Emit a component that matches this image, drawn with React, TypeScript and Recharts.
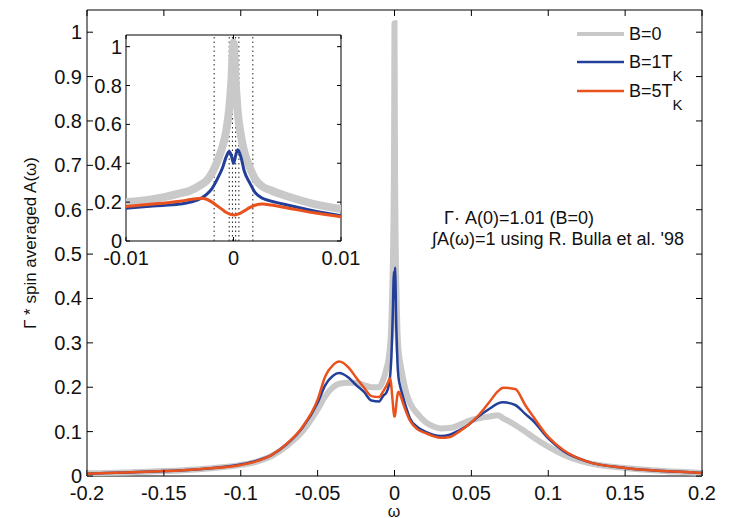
import React from 'react'
import { LineChart, Line, XAxis, YAxis, ReferenceArea, ReferenceLine } from 'recharts'

// omega grid (dense near 0 so the Kondo peak is resolved)
const omega = [
  -0.2, -0.175, -0.15, -0.125, -0.1, -0.09, -0.08, -0.07, -0.06, -0.05, -0.045, -0.04, -0.036,
  -0.03, -0.025, -0.02, -0.015, -0.01, -0.0075, -0.005, -0.004, -0.003, -0.0025, -0.002, -0.0015,
  -0.001, -0.0007, -0.0004, -0.0002, 0, 0.0002, 0.0004, 0.0007, 0.001, 0.0015, 0.002, 0.0027,
  0.0035, 0.005, 0.0075, 0.01, 0.015, 0.02, 0.025, 0.03, 0.036, 0.042, 0.048, 0.055, 0.062, 0.067,
  0.0707, 0.0785, 0.085, 0.09, 0.1, 0.11, 0.125, 0.15, 0.175, 0.2,
]
const specB0 = [
  0.006, 0.008, 0.011, 0.016, 0.025, 0.032, 0.045, 0.068, 0.1, 0.15, 0.18, 0.2, 0.208,
  0.21, 0.21, 0.205, 0.2, 0.2, 0.215, 0.245, 0.26, 0.29, 0.31, 0.35, 0.41,
  0.49, 0.56, 0.68, 0.82, 1.02, 0.82, 0.66, 0.54, 0.46, 0.38, 0.32, 0.28,
  0.26, 0.23, 0.19, 0.165, 0.14, 0.122, 0.112, 0.107, 0.108, 0.115, 0.124, 0.13, 0.134, 0.137,
  0.13, 0.115, 0.1, 0.088, 0.066, 0.048, 0.03, 0.018, 0.011, 0.007,
]
const specB1 = [
  0.005, 0.008, 0.011, 0.016, 0.026, 0.034, 0.047, 0.072, 0.108, 0.165, 0.205, 0.226, 0.232,
  0.222, 0.205, 0.19, 0.17, 0.168, 0.18, 0.19, 0.2, 0.22, 0.24, 0.27, 0.32,
  0.38, 0.43, 0.46, 0.44, 0.4, 0.44, 0.47, 0.43, 0.36, 0.3, 0.25, 0.22,
  0.205, 0.185, 0.155, 0.13, 0.11, 0.1, 0.093, 0.09, 0.093, 0.103, 0.115, 0.135, 0.152, 0.163,
  0.166, 0.16, 0.14, 0.125, 0.085, 0.056, 0.033, 0.018, 0.011, 0.007,
]
const specB5 = [
  0.005, 0.008, 0.011, 0.016, 0.025, 0.033, 0.047, 0.073, 0.11, 0.172, 0.225, 0.25, 0.258,
  0.245, 0.222, 0.2, 0.18, 0.178, 0.19, 0.205, 0.213, 0.22, 0.215, 0.2, 0.18,
  0.16, 0.148, 0.14, 0.136, 0.134, 0.135, 0.138, 0.145, 0.155, 0.172, 0.184, 0.19,
  0.185, 0.17, 0.145, 0.125, 0.105, 0.097, 0.09, 0.086, 0.088, 0.1, 0.115, 0.138, 0.168, 0.19,
  0.199, 0.196, 0.16, 0.135, 0.088, 0.058, 0.033, 0.018, 0.011, 0.007,
]

const xTicks = [-0.2, -0.15, -0.1, -0.05, 0, 0.05, 0.1, 0.15, 0.2]
const yTicks = [0, 0.1, 0.2, 0.3, 0.4, 0.5, 0.6, 0.7, 0.8, 0.9, 1]
const insetXTicks = [-0.01, 0, 0.01]
const insetYTicks = [0, 0.2, 0.4, 0.6, 0.8, 1]
const insetMarks = [-0.0018, -0.0004, -0.0001, 0.0002, 0.0005, 0.0018]

const legendItems = [
  { label: 'B=0', sub: '', color: '#c9c9c9', width: 4 },
  { label: 'B=1T', sub: 'K', color: '#233f9a', width: 2.5 },
  { label: 'B=5T', sub: 'K', color: '#e9521d', width: 2.5 },
]

const data = omega.map((w, i) => ({ w, b0: specB0[i], b1: specB1[i], b5: specB5[i] }))
const insetData = data.filter((d) => Math.abs(d.w) <= 0.01 + 1e-9)

const FONT = '"Liberation Sans", Arial, sans-serif'
const MAIN = { left: 87, right: 702, top: 10, bottom: 476 }
const INSET = { left: 126, right: 341, top: 35, bottom: 241 }

const fmt = (v: number) => String(Math.round(v * 1000) / 1000)

function MainXTick({ x, payload }: any) {
  return (
    <g>
      <line x1={x} x2={x} y1={MAIN.bottom} y2={MAIN.bottom - 6} stroke="#000" />
      <line x1={x} x2={x} y1={MAIN.top} y2={MAIN.top + 6} stroke="#000" />
      <text x={x} y={MAIN.bottom + 24} textAnchor="middle" fontSize={20} fill="#111" fontFamily={FONT}>
        {fmt(payload.value)}
      </text>
    </g>
  )
}

function MainYTick({ y, payload }: any) {
  return (
    <g>
      <line x1={MAIN.left} x2={MAIN.left + 6} y1={y} y2={y} stroke="#000" />
      <line x1={MAIN.right} x2={MAIN.right - 6} y1={y} y2={y} stroke="#000" />
      <text x={MAIN.left - 5} y={y} dy="0.35em" textAnchor="end" fontSize={20} fill="#111" fontFamily={FONT}>
        {fmt(payload.value)}
      </text>
    </g>
  )
}

function InsetXTick({ x, payload }: any) {
  return (
    <g>
      <line x1={x} x2={x} y1={INSET.bottom} y2={INSET.bottom - 4} stroke="#000" />
      <line x1={x} x2={x} y1={INSET.top} y2={INSET.top + 4} stroke="#000" />
      <text x={x} y={INSET.bottom + 24} textAnchor="middle" fontSize={20} fill="#111" fontFamily={FONT}>
        {fmt(payload.value)}
      </text>
    </g>
  )
}

function InsetYTick({ y, payload }: any) {
  return (
    <g>
      <line x1={INSET.left} x2={INSET.left + 4} y1={y} y2={y} stroke="#000" />
      <line x1={INSET.right} x2={INSET.right - 4} y1={y} y2={y} stroke="#000" />
      <text x={INSET.left - 4} y={y} dy="0.35em" textAnchor="end" fontSize={20} fill="#111" fontFamily={FONT}>
        {fmt(payload.value)}
      </text>
    </g>
  )
}

export default function App() {
  return (
    <div style={{ position: 'absolute', left: 0, top: 0, width: 731, height: 518, background: '#fff', fontFamily: FONT }}>
      <div style={{ position: 'absolute', left: 0, top: 0 }}>
        <LineChart width={731} height={518} data={data} margin={{ top: 10, right: 29, bottom: 0, left: 27 }}>
          <XAxis
            dataKey="w"
            type="number"
            domain={[-0.2, 0.2]}
            ticks={xTicks}
            interval={0}
            height={42}
            tickLine={false}
            axisLine={false}
            tickSize={0}
            tick={<MainXTick />}
            allowDataOverflow
          />
          <YAxis
            type="number"
            domain={[0, 1.05]}
            ticks={yTicks}
            interval={0}
            width={60}
            tickLine={false}
            axisLine={false}
            tickSize={0}
            tick={<MainYTick />}
            allowDataOverflow
          />
          <ReferenceArea x1={-0.2} x2={0.2} y1={0} y2={1.05} fill="none" stroke="#000" strokeWidth={1} />
          <Line type="monotone" dataKey="b0" stroke="#c9c9c9" strokeWidth={6} dot={false} isAnimationActive={false} />
          <Line type="monotone" dataKey="b1" stroke="#233f9a" strokeWidth={2.5} dot={false} isAnimationActive={false} />
          <Line type="monotone" dataKey="b5" stroke="#e9521d" strokeWidth={2.5} dot={false} isAnimationActive={false} />
        </LineChart>
      </div>

      <div style={{ position: 'absolute', left: 0, top: 0 }}>
        <LineChart width={380} height={268} data={insetData} margin={{ top: 35, right: 39, bottom: 0, left: 66 }}>
          <XAxis
            dataKey="w"
            type="number"
            domain={[-0.01, 0.01]}
            ticks={insetXTicks}
            interval={0}
            height={27}
            tickLine={false}
            axisLine={false}
            tickSize={0}
            tick={<InsetXTick />}
            allowDataOverflow
          />
          <YAxis
            type="number"
            domain={[0, 1.06]}
            ticks={insetYTicks}
            interval={0}
            width={60}
            tickLine={false}
            axisLine={false}
            tickSize={0}
            tick={<InsetYTick />}
            allowDataOverflow
          />
          <ReferenceArea x1={-0.01} x2={0.01} y1={0} y2={1.06} fill="#fff" fillOpacity={0} stroke="#000" strokeWidth={1} />
          {insetMarks.map((m) => (
            <ReferenceLine key={m} x={m} stroke="#222" strokeDasharray="1.5 3" strokeWidth={1} />
          ))}
          <Line type="monotone" dataKey="b0" stroke="#c9c9c9" strokeWidth={8} dot={false} isAnimationActive={false} />
          <Line type="monotone" dataKey="b1" stroke="#233f9a" strokeWidth={3} dot={false} isAnimationActive={false} />
          <Line type="monotone" dataKey="b5" stroke="#e9521d" strokeWidth={3} dot={false} isAnimationActive={false} />
        </LineChart>
      </div>

      <svg width={731} height={518} style={{ position: 'absolute', left: 0, top: 0, pointerEvents: 'none' }}>
        <text transform="translate(36,243) rotate(-90)" textAnchor="middle" fontSize={17} fill="#111" fontFamily={FONT}>
          Γ * spin averaged A(ω)
        </text>
        <text x={394} y={517} textAnchor="middle" fontSize={16} fill="#111" fontFamily={FONT}>
          ω
        </text>
        <text x={444} y={224} fontSize={18} fill="#111" fontFamily={FONT}>
          Γ· A(0)=1.01 (B=0)
        </text>
        <text x={432} y={245} fontSize={18} fill="#111" fontFamily={FONT}>
          ∫A(ω)=1 using R. Bulla et al. '98
        </text>
        {legendItems.map((it, i) => {
          const cy = [34, 62, 91][i]
          return (
            <g key={it.label}>
              <line x1={577} x2={624} y1={cy} y2={cy} stroke={it.color} strokeWidth={it.width} />
              <text x={629} y={cy + 6} fontSize={18} fill="#111" fontFamily={FONT}>
                {it.label}
                {it.sub ? (
                  <tspan fontSize={15} dy={13}>
                    {it.sub}
                  </tspan>
                ) : null}
              </text>
            </g>
          )
        })}
      </svg>
    </div>
  )
}
